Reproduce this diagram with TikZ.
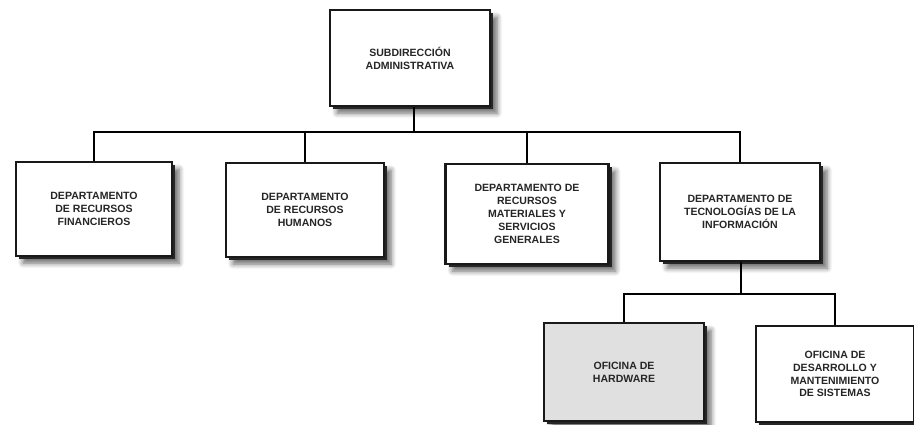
\documentclass[tikz,border=0pt]{standalone}
\usepackage{fontspec}
\usepackage{xcolor}
\usepackage{tikz}
\usetikzlibrary{shadows,shadows.blur}
\newfontfamily\orgfont{Liberation Sans}

\tikzset{
  unidad/.style={draw=black!90, line width=1.3pt, fill=white, align=center,
    text=black!85, font=\orgfont\bfseries\fontsize{6}{7.3}\selectfont,
    blur shadow={shadow xshift=4pt, shadow yshift=-4pt, shadow blur steps=6,
      shadow blur radius=3pt, shadow opacity=60},
    drop shadow={shadow xshift=1.8pt, shadow yshift=-1.8pt, fill=black!85, opacity=1}},
  linea/.style={line width=0.9pt, black}
}

\begin{document}
\begin{tikzpicture}
\useasboundingbox (0,0) rectangle (18.28,8.48);
% nivel superior
\node[unidad, minimum width=3.2cm, minimum height=1.92cm] (sub) at (8.2,7.32) {SUBDIRECCIÓN\\ADMINISTRATIVA};
% departamentos
\node[unidad, minimum width=3.12cm, minimum height=1.88cm] (fin) at (1.88,4.30) {DEPARTAMENTO\\DE RECURSOS\\FINANCIEROS};
\node[unidad, minimum width=3.16cm, minimum height=1.88cm] (hum) at (6.10,4.28) {DEPARTAMENTO\\DE RECURSOS\\HUMANOS};
\node[unidad, minimum width=3.26cm, minimum height=2cm] (mat) at (10.54,4.20) {DEPARTAMENTO DE\\RECURSOS\\MATERIALES Y\\SERVICIOS\\GENERALES};
\node[unidad, minimum width=3.2cm, minimum height=1.96cm] (tic) at (14.80,4.24) {DEPARTAMENTO DE\\TECNOLOGÍAS DE LA\\INFORMACIÓN};
% oficinas
\node[unidad, fill=black!12, minimum width=3.2cm, minimum height=1.96cm] (hw) at (12.48,1.04) {OFICINA DE\\HARDWARE};
\node[unidad, minimum width=3.16cm, minimum height=1.92cm] (sis) at (16.70,1.00) {OFICINA DE\\DESARROLLO Y\\MANTENIMIENTO\\DE SISTEMAS};

\coordinate (bus) at (8.28,5.84);
\coordinate (bus2) at (14.82,2.6);
\draw[linea] (bus |- sub.south) -- (bus);
\draw[linea] (fin.north) |- (bus) -| (tic.north);
\draw[linea] (hum.north) -- (hum.north |- bus);
\draw[linea] (mat.north) -- (mat.north |- bus);
\draw[linea] (bus2 |- tic.south) -- (bus2);
\draw[linea] (hw.north) |- (bus2) -| (sis.north);
\end{tikzpicture}
\end{document}
